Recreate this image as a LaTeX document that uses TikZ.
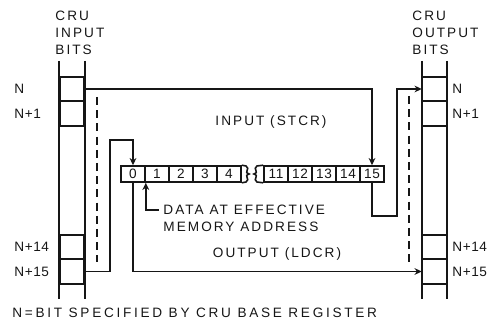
\documentclass[tikz,border=0pt]{standalone}
\usepackage{fontspec}
\newfontfamily\lettering[LetterSpace=15]{Liberation Sans}
\newfontfamily\wideletters[LetterSpace=20]{Liberation Sans}
\newfontfamily\numbering[LetterSpace=4]{Liberation Sans}
\usetikzlibrary{arrows.meta,positioning}
\definecolor{ink}{RGB}{22,22,22}
\tikzset{
  lbl/.style={font=\lettering\fontsize{6.8}{8.5}\selectfont, text=ink, inner sep=0pt},
  num/.style={font=\numbering\fontsize{6.8}{8.5}\selectfont, text=ink, inner sep=0pt},
  cell/.style={draw=ink, minimum width=12pt, minimum height=12.25pt, inner sep=0pt,
    line width=0.8pt},
  bit/.style={draw=ink, minimum width=12pt, minimum height=8pt, inner sep=0pt,
    line width=0.8pt, font=\numbering\fontsize{6.8}{8}\selectfont, text=ink},
  rail/.style={draw=ink, line width=0.9pt},
  wire/.style={draw=ink, line width=0.8pt},
  flow/.style={-{Stealth[length=3.6pt,width=3.4pt]}, draw=ink, line width=0.8pt},
  guide/.style={draw=ink, line width=0.8pt, dash pattern=on 4pt off 2.6pt},
}
\begin{document}
\begin{tikzpicture}[x=0.5pt, y=-0.5pt]
  \useasboundingbox (0,0) rectangle (490,324);
  % CRU bit columns
  \node[cell] (inN) at (72,89) {};
  \node[cell] (inNa) at (72,113.5) {};
  \node[cell] (inNn) at (72,247) {};
  \node[cell] (inNo) at (72,271.5) {};
  \node[cell] (outN) at (434.5,89) {};
  \node[cell] (outNa) at (434.5,113.5) {};
  \node[cell] (outNn) at (434.5,247) {};
  \node[cell] (outNo) at (434.5,271.5) {};
  \draw[rail] (inN.north west) ++(0,-15) -- (inNo.south west) -- ++(0,14);
  \draw[rail] (inN.north east) ++(0,-15) -- (inNo.south east) -- ++(0,14);
  \draw[rail] (outN.north west) ++(0,-15) -- (outNo.south west) -- ++(0,14);
  \draw[rail] (outN.north east) ++(0,-15) -- (outNo.south east) -- ++(0,14);
  \node[lbl, align=left, anchor=north west] (hin) at (55,11) {CRU\\INPUT\\BITS};
  \node[lbl, align=left, anchor=north west] (hout) at (412,11) {CRU\\OUTPUT\\BITS};
  \node[num, anchor=west] (lN) at (14,89) {N};
  \node[num, anchor=west] (lNa) at (14,113.5) {N+1};
  \node[num, anchor=west] (lNn) at (14,247) {N+14};
  \node[num, anchor=west] (lNo) at (14,271.5) {N+15};
  \node[num, anchor=west] (rN) at (452,89) {N};
  \node[num, anchor=west] (rNa) at (452,113.5) {N+1};
  \node[num, anchor=west] (rNn) at (452,247) {N+14};
  \node[num, anchor=west] (rNo) at (452,271.5) {N+15};
  % memory word
  \foreach \b in {0,...,4}
    \node[bit] (r\b) at ({133+24*\b},174) {\b};
  \foreach \b in {11,...,15}
    \node[bit] (r\b) at ({372-24*(15-\b)},174) {\b};
  \draw[wire] (r4.north east) -- (246,166) .. controls (251,169) and (243,172) .. (249,174)
    .. controls (243,176) and (251,179) .. (246,182) -- (r4.south east);
  \draw[wire] (r11.north west) -- (257,166) .. controls (252,169) and (260,172) .. (254,174)
    .. controls (260,176) and (252,179) .. (257,182) -- (r11.south west);
  \draw[guide] (97,97) -- (97,262);
  \draw[guide] (409,96) -- (409,263);
  % transfers
  \coordinate (lbend) at (110,140);
  \coordinate (sbend) at (397,216);
  \coordinate (dhook) at (159,210);
  \draw[flow] (inN.east) -| (r15.north);
  \draw[flow] (r15.south) |- (sbend) |- (outN.west);
  \draw[flow] (inNo.east) -| (lbend) -| (r0.north);
  \draw[flow] (r0.south) |- (outNo.west);
  \draw[flow] (dhook) -| (r0.south east);
  \node[lbl] (stcr) at (271,122) {INPUT (STCR)};
  \node[lbl] (ldcr) at (277,254) {OUTPUT (LDCR)};
  \node[lbl, align=left, anchor=west] (data) at (163,218) {DATA AT EFFECTIVE\\MEMORY ADDRESS};
  \node[lbl, font=\wideletters\fontsize{6.8}{8.5}\selectfont, anchor=west] (note) at (12,313)
    {N=BIT SPECIFIED BY CRU BASE REGISTER};
\end{tikzpicture}
\end{document}
